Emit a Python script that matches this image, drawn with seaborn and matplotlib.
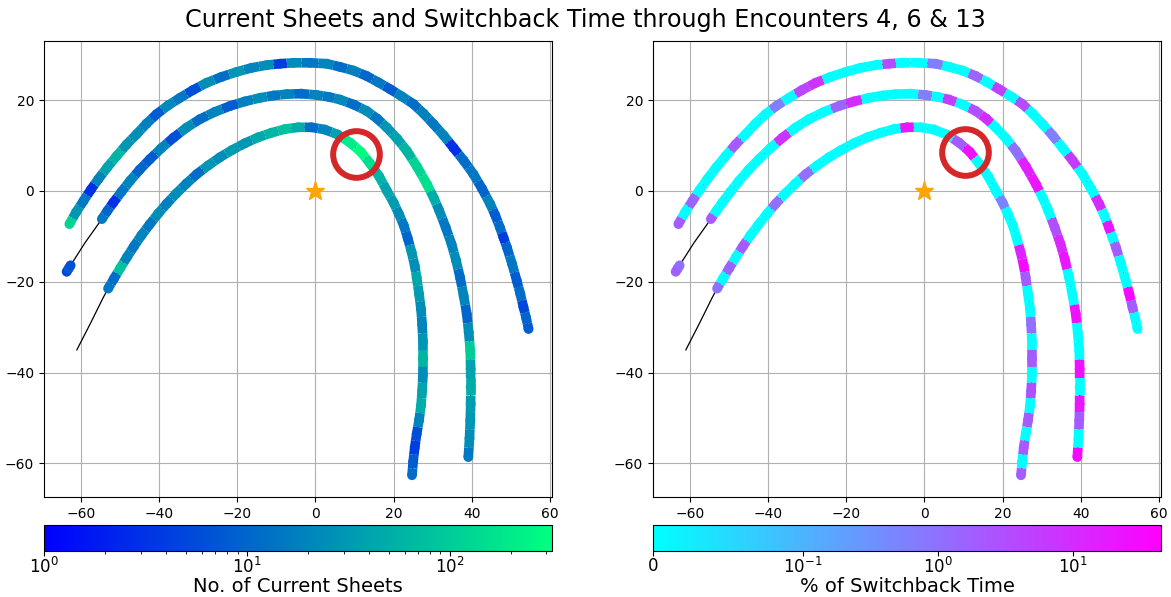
import numpy as np
import pandas as pd
import matplotlib
matplotlib.use("Agg")
import matplotlib.pyplot as plt
import seaborn as sns
from matplotlib.colors import LogNorm, SymLogNorm
from matplotlib.collections import LineCollection
from matplotlib.cm import ScalarMappable

# ---------------- data ----------------
# outer orbit
outer_x = [-62.9, -61.2, -59.3, -57.4, -55.5, -53.2, -50.8, -48.3, -45.7, -43.2, -40.6, -37.7,
           -34.6, -31.3, -27.8, -24.0, -20.1, -16.3, -12.4, -9.0, -5.6, -1.4, 2.9, 6.3,
           9.7, 13.1, 16.1, 19.1, 22.1, 25.1, 27.7, 30.2, 32.8, 35.3, 37.9, 40.4,
           42.6, 44.7, 46.0, 47.2, 48.1, 49.0, 50.3, 51.5, 52.4, 53.2, 53.9, 54.5]
outer_y = [-7.3, -4.7, -2.2, 0.3, 2.6, 5.2, 7.7, 10.2, 12.5, 14.8, 16.9, 18.8,
           20.5, 22.2, 23.8, 25.1, 26.2, 27.1, 27.7, 28.0, 28.2, 28.2, 28.0, 27.3,
           26.5, 25.3, 23.9, 22.4, 20.8, 19.1, 17.0, 14.7, 12.2, 9.5, 6.7, 3.7,
           0.5, -2.9, -5.4, -8.1, -10.3, -12.5, -16.1, -19.8, -22.7, -25.6, -28.0, -30.4]
outer_cs = [120, 30, 15, 3, 20, 40, 60, 30, 25, 18, 8, 22,
            15, 6, 25, 12, 30, 20, 25, 4, 25, 15, 20, 12,
            18, 10, 15, 8, 20, 12, 18, 15, 20, 3, 12, 15,
            10, 20, 8, 12, 4, 10, 15, 8, 12, 5, 10, 8]
outer_sb = [2, 0, 1.5, 0, 0, 0, 0, 2, 0, 0, 0, 0.6,
            0, 4, 8, 0, 0, 0, 0, 3, 0, 0, 0.6, 0,
            0, 1.5, 0, 5, 0, 3, 0, 0, 0.6, 0, 6, 0,
            0, 10, 0, 20, 0, 2, 0, 0, 30, 2, 0, 0]

# short fragment at the start of the middle orbit
frag_x = [-63.6, -63.1, -62.6]
frag_y = [-17.8, -17.1, -16.4]
frag_cs = [5, 8, 6]
frag_sb = [1.5, 2, 1]

# middle orbit
middle_x = [-54.6, -53.2, -51.7, -49.6, -47.4, -44.9, -42.3, -39.4, -36.3, -33.0, -29.5, -25.7,
            -21.8, -18.0, -14.1, -10.7, -7.3, -3.6, 0.4, 3.4, 6.3, 9.8, 13.1, 15.8,
            18.3, 20.9, 23.4, 26.0, 28.5, 30.3, 31.6, 33.3, 34.8, 36.0, 37.0, 37.9,
            38.7, 39.2, 39.6, 39.7, 39.7, 39.7, 39.6, 39.4, 39.1]
middle_y = [-6.2, -4.4, -2.6, -0.2, 2.2, 4.7, 7.0, 9.4, 11.7, 13.9, 15.8, 17.4,
            18.7, 19.7, 20.5, 21.0, 21.3, 21.4, 21.1, 20.7, 20.1, 19.0, 17.6, 15.9,
            13.9, 11.5, 8.8, 5.3, 1.5, -1.6, -4.2, -8.0, -11.7, -15.4, -19.1, -23.1,
            -27.1, -31.1, -35.2, -39.2, -43.2, -46.9, -50.5, -54.5, -58.6]
middle_cs = [15, 10, 3, 15, 20, 10, 8, 20, 6, 25, 12, 20,
             8, 18, 25, 15, 20, 12, 20, 15, 22, 12, 25, 15,
             30, 40, 60, 120, 150, 50, 25, 15, 20, 25, 12, 20,
             10, 25, 100, 40, 50, 35, 30, 25, 15]
middle_sb = [2, 0, 0, 0, 0, 0, 0, 0, 8, 0, 0, 0,
             1.5, 10, 0, 0, 0, 0, 0.6, 0, 5, 0, 3, 10,
             0, 0, 1, 15, 20, 0, 0, 3, 12, 20, 0, 0,
             25, 0, 0, 25, 0, 20, 2, 0, 30]

# inner orbit
inner_x = [-53.0, -51.5, -49.9, -48.2, -46.4, -44.5, -42.4, -40.2, -38.0, -35.6, -33.0, -30.3,
           -27.4, -24.4, -21.3, -18.0, -14.6, -11.2, -7.8, -4.4, -1.0, 2.4, 5.7, 8.9,
           11.6, 14.0, 16.3, 18.3, 20.0, 21.3, 22.6, 23.6, 24.6, 25.4, 25.9, 26.5,
           27.0, 27.3, 27.5, 27.5, 27.5, 27.3, 27.0, 26.5, 25.9, 25.4, 25.0, 24.7]
inner_y = [-21.5, -19.3, -17.0, -14.6, -12.2, -9.8, -7.4, -5.0, -2.8, -0.6, 1.6, 3.7,
           5.6, 7.4, 9.0, 10.5, 11.8, 12.8, 13.6, 14.0, 14.0, 13.5, 12.4, 10.6,
           8.6, 6.0, 3.2, 0.0, -2.6, -5.0, -7.6, -10.4, -13.5, -16.5, -19.1, -22.7,
           -26.0, -29.5, -33.2, -37.0, -40.5, -44.0, -47.3, -50.5, -53.5, -56.5, -59.6, -62.6]
inner_cs = [15, 12, 80, 20, 15, 20, 15, 25, 18, 25, 20, 12,
            30, 25, 35, 30, 45, 60, 80, 50, 12, 20, 40, 200,
            300, 150, 60, 40, 35, 25, 15, 10, 30, 25, 45, 35,
            25, 20, 30, 60, 25, 40, 50, 20, 6, 4, 8, 12]
inner_sb = [1, 0, 1.5, 0, 2, 0, 0, 0, 1, 0, 0, 1,
            0, 0, 0, 0, 0, 0, 0, 20, 0, 0, 0, 2,
            25, 0, 0, 0, 0.5, 0, 0, 0, 15, 30, 2, 0,
            0, 1, 0, 2, 0, 3, 0, 2, 0, 2, 0, 2]

# trajectory stretches without measurements (thin black line only)
lead_middle_x = [-58.9]
lead_middle_y = [-11.4]
lead_inner_x = [-61.0, -57.6, -54.2]
lead_inner_y = [-35.0, -29.3, -23.4]

ring_left = (10.5, 8.1)
ring_right = (10.3, 8.6)

title = "Current Sheets and Switchback Time through Encounters 4, 6 & 13"
cs_label = "No. of Current Sheets"
sb_label = "% of Switchback Time"
sb_ticks = [0, 0.1, 1, 10]
sb_ticklabels = ["0", r"$10^{-1}$", r"$10^{0}$", r"$10^{1}$"]

# ---------------- build table ----------------
tracks = [("outer", outer_x, outer_y, outer_cs, outer_sb),
          ("frag", frag_x, frag_y, frag_cs, frag_sb),
          ("middle", middle_x, middle_y, middle_cs, middle_sb),
          ("inner", inner_x, inner_y, inner_cs, inner_sb)]
df = pd.concat([pd.DataFrame({"x": x, "y": y, "cs": c, "sb": s, "track": n})
                for n, x, y, c, s in tracks], ignore_index=True)

traj = [
    (outer_x, outer_y),
    (frag_x + lead_middle_x + middle_x, frag_y + lead_middle_y + middle_y),
    (lead_inner_x + inner_x, lead_inner_y + inner_y),
]

cs_norm = LogNorm(vmin=1, vmax=320)
sb_norm = SymLogNorm(linthresh=0.1, linscale=1, vmin=0, vmax=45, base=10)
cs_cmap = plt.get_cmap("winter")
sb_cmap = plt.get_cmap("cool")

W, H = 1171, 597
fig = plt.figure(figsize=(W / 100, H / 100), dpi=100)

ax_l = fig.add_axes([44 / W, 1 - 497 / H, 508 / W, 456 / H])
ax_r = fig.add_axes([653 / W, 1 - 497 / H, 508 / W, 456 / H])
cax_l = fig.add_axes([44 / W, 1 - 551 / H, 508 / W, 26 / H])
cax_r = fig.add_axes([653 / W, 1 - 551 / H, 508 / W, 26 / H])

MS = 50          # scatter size (pt^2)
BAND = np.sqrt(MS) * 0.98


def draw_panel(ax, col, cmap, norm, ring):
    ax.set_axisbelow(True)
    ax.grid(True, color="#b0b0b0", linewidth=0.8)
    for tx, ty in traj:
        ax.plot(tx, ty, color="black", linewidth=0.9, zorder=1.6)
    for name, g in df.groupby("track", sort=False):
        pts = g[["x", "y"]].to_numpy(float)
        vals = g[col].to_numpy(float)
        if len(pts) > 1:
            mids = (pts[1:] + pts[:-1]) / 2
            starts = np.vstack([pts[:1], mids])
            ends = np.vstack([mids, pts[-1:]])
            segs = [np.array([starts[i], pts[i], ends[i]]) for i in range(len(pts))]
            lc = LineCollection(segs, colors=cmap(norm(vals)), linewidths=BAND,
                                capstyle="butt", joinstyle="round", zorder=2)
            ax.add_collection(lc)
    sns.scatterplot(data=df, x="x", y="y", hue=col, hue_norm=norm, palette=cmap,
                    s=MS, linewidth=0, legend=False, ax=ax, zorder=3)
    ax.plot([0], [0], marker="*", color="orange", markersize=14, linestyle="none", zorder=4)
    ax.plot([ring[0]], [ring[1]], marker="o", markerfacecolor="none",
            markeredgecolor="#d62728", markersize=33.6, markeredgewidth=4.3,
            linestyle="none", zorder=5)
    ax.set_xlim(-69.4, 60.5)
    ax.set_ylim(-67.4, 33.0)
    ax.set_xticks([-60, -40, -20, 0, 20, 40, 60])
    ax.set_yticks([-60, -40, -20, 0, 20])
    ax.set_xlabel("")
    ax.set_ylabel("")
    ax.tick_params(labelsize=10)


draw_panel(ax_l, "cs", cs_cmap, cs_norm, ring_left)
draw_panel(ax_r, "sb", sb_cmap, sb_norm, ring_right)

cb_l = fig.colorbar(ScalarMappable(norm=cs_norm, cmap=cs_cmap), cax=cax_l, orientation="horizontal")
cb_l.set_label(cs_label, fontsize=14, labelpad=0)
cb_l.ax.tick_params(labelsize=12, pad=1)

cb_r = fig.colorbar(ScalarMappable(norm=sb_norm, cmap=sb_cmap), cax=cax_r, orientation="horizontal")
cb_r.set_ticks(sb_ticks)
cb_r.set_ticklabels(sb_ticklabels)
cb_r.ax.minorticks_off()
cb_r.set_label(sb_label, fontsize=14, labelpad=0)
cb_r.ax.tick_params(labelsize=12, pad=1)

fig.suptitle(title, fontsize=17.2, y=1 - 20 / H, va="center")

fig.savefig("out.png", dpi=100)
